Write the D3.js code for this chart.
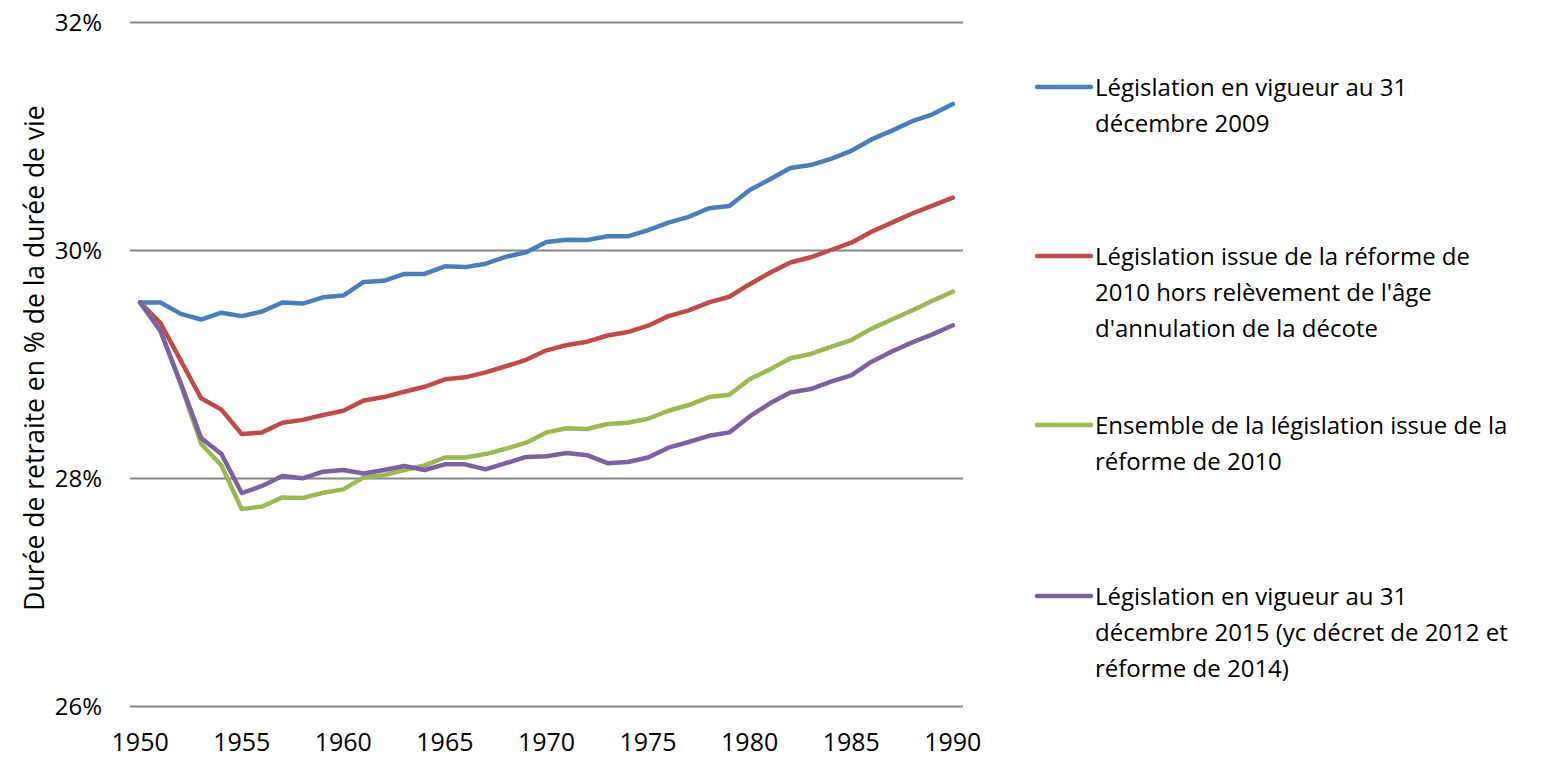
<!DOCTYPE html>
<html>
<head>
<meta charset="utf-8">
<script src="https://cdn.jsdelivr.net/npm/d3@7"></script>
<style>
	body { margin: 0; background: #fff; }
	svg text { font-family: "Open Sans", sans-serif; fill: #000; font-size: 24px; }
	.grid line { stroke: #868686; stroke-width: 2; }
	.grid path { display: none; }
</style>
</head>
<body>
<div id="chart"></div>
<script>
// years 1950 .. 1990
const years = d3.range(1950, 1991);

const legislation2009 = [
	29.54, 29.54, 29.44, 29.39, 29.45, 29.42, 29.46, 29.54, 29.53, 29.585,
	29.60, 29.72, 29.73, 29.79, 29.79, 29.857, 29.85, 29.88, 29.94, 29.98,
	30.07, 30.09, 30.088, 30.12, 30.12, 30.175, 30.24, 30.29, 30.366, 30.386,
	30.526, 30.62, 30.72, 30.745, 30.80, 30.87, 30.97, 31.047, 31.13, 31.19,
	31.28
];
const reformHorsDecote = [
	29.54, 29.36, 29.03, 28.70, 28.60, 28.385, 28.40, 28.485, 28.51, 28.553,
	28.59, 28.68, 28.71, 28.757, 28.80, 28.866, 28.883, 28.927, 28.98, 29.037,
	29.12, 29.167, 29.196, 29.25, 29.28, 29.336, 29.42, 29.47, 29.54, 29.59,
	29.70, 29.80, 29.89, 29.936, 30.00, 30.064, 30.16, 30.24, 30.32, 30.39,
	30.46
];
const reform2010 = [
	29.54, 29.29, 28.82, 28.30, 28.11, 27.727, 27.75, 27.83, 27.825, 27.87,
	27.90, 28.005, 28.025, 28.07, 28.11, 28.18, 28.18, 28.21, 28.257, 28.31,
	28.40, 28.436, 28.43, 28.474, 28.485, 28.52, 28.59, 28.64, 28.71, 28.73,
	28.866, 28.953, 29.05, 29.088, 29.15, 29.21, 29.31, 29.39, 29.47, 29.555,
	29.635
];
const legislation2015 = [
	29.54, 29.29, 28.83, 28.35, 28.21, 27.868, 27.93, 28.018, 27.997, 28.055,
	28.07, 28.04, 28.07, 28.105, 28.07, 28.12, 28.12, 28.076, 28.13, 28.185,
	28.19, 28.22, 28.20, 28.13, 28.14, 28.18, 28.266, 28.316, 28.37, 28.40,
	28.54, 28.655, 28.75, 28.78, 28.845, 28.90, 29.02, 29.11, 29.19, 29.26,
	29.34
];

const yTicks = [26, 28, 30, 32];
const xTicks = [1950, 1955, 1960, 1965, 1970, 1975, 1980, 1985, 1990];
const yTitle = "Durée de retraite en % de la durée de vie";

const seriesNames = [
	["Législation en vigueur au 31", "décembre 2009"],
	["Législation issue de la réforme de", "2010 hors relèvement de l'âge", "d'annulation de la décote"],
	["Ensemble de la législation issue de la", "réforme de 2010"],
	["Législation en vigueur au 31", "décembre 2015 (yc décret de 2012 et", "réforme de 2014)"]
];
const seriesValues = [legislation2009, reformHorsDecote, reform2010, legislation2015];
const seriesColors = ["#4A7EBB", "#BE4B48", "#98B954", "#7D60A0"];

// layout
const width = 1545, height = 757;
const plot = { left: 130, right: 963, top: 22, bottom: 706 };
const step = (plot.right - plot.left) / years.length;

const x = d3.scaleLinear()
	.domain([1950, 1990])
	.range([plot.left + step / 2, plot.right - step / 2]);
const y = d3.scaleLinear()
	.domain([26, 32])
	.range([plot.bottom, plot.top]);

const svg = d3.select("#chart").append("svg")
	.attr("width", width)
	.attr("height", height);

// gridlines
svg.append("g")
	.attr("class", "grid")
	.attr("transform", "translate(" + plot.left + ",0)")
	.call(d3.axisRight(y)
		.tickValues(yTicks)
		.tickSize(plot.right - plot.left)
		.tickFormat(""));

// y labels
svg.append("g")
	.selectAll("text")
	.data(yTicks)
	.enter().append("text")
	.attr("x", 102)
	.attr("y", d => y(d))
	.attr("dy", "0.36em")
	.attr("text-anchor", "end")
	.text(d => d + "%");

// x labels
svg.append("g")
	.selectAll("text")
	.data(xTicks)
	.enter().append("text")
	.attr("x", d => x(d))
	.attr("y", 742)
	.attr("dy", "0.36em")
	.attr("text-anchor", "middle")
	.style("font-size", "25px")
	.text(d => d);

// y title
svg.append("text")
	.attr("transform", "translate(34,358) rotate(-90)")
	.attr("dy", "0.36em")
	.attr("text-anchor", "middle")
	.style("font-size", "26.5px")
	.text(yTitle);

// lines
const line = d3.line()
	.x((d, i) => x(years[i]))
	.y(d => y(d));

svg.append("g")
	.selectAll("path")
	.data(seriesValues)
	.enter().append("path")
	.attr("fill", "none")
	.attr("stroke", (d, i) => seriesColors[i])
	.attr("stroke-width", 4.5)
	.attr("stroke-linejoin", "round")
	.attr("stroke-linecap", "round")
	.attr("d", line);

// legend
const legendRows = [87, 256, 425, 596];
const legend = svg.append("g")
	.selectAll("g")
	.data(seriesNames)
	.enter().append("g")
	.attr("transform", (d, i) => "translate(1037," + legendRows[i] + ")");

legend.append("line")
	.attr("x1", 0)
	.attr("x2", 54)
	.attr("stroke", (d, i) => seriesColors[i])
	.attr("stroke-width", 4.5)
	.attr("stroke-linecap", "round");

legend.selectAll("text")
	.data(d => d)
	.enter().append("text")
	.attr("x", 58)
	.attr("y", (d, i) => i * 36)
	.attr("dy", "0.36em")
	.text(d => d);
</script>
</body>
</html>
